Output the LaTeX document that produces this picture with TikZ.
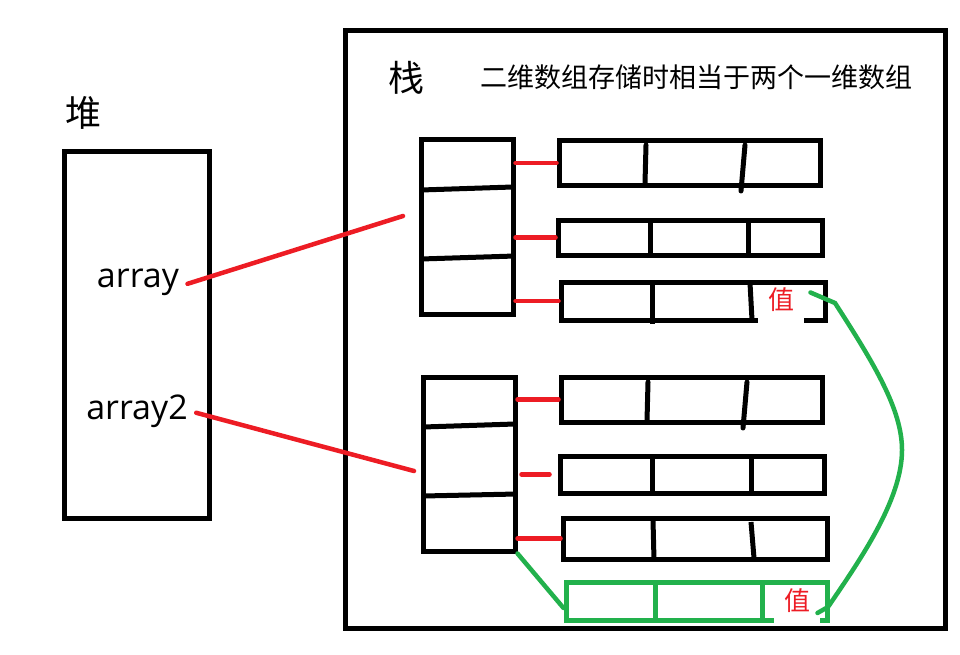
\documentclass[tikz,border=0pt]{standalone}
\usepackage{fontspec}
\setmainfont{Open Sans}
\newfontfamily\cjk{Noto Sans CJK SC}
\definecolor{paintred}{RGB}{237,28,36}
\definecolor{paintgreen}{RGB}{34,177,76}

\begin{document}
\begin{tikzpicture}[x=1pt,y=-1pt,line width=5pt,
  box/.style={draw,line width=5pt,minimum width=#1,inner sep=0pt},
  redline/.style={paintred,line width=4.5pt,line cap=round},
  greenline/.style={paintgreen,line width=4.5pt,line cap=round},
  zh/.style={font=\cjk\fontsize{#1}{#1}\selectfont,inner sep=0pt},
  val/.style={zh=26,text=paintred,fill=white,minimum width=46pt,text height=19pt,anchor=base}]
\useasboundingbox (0,0) rectangle (960,655);

% heap and stack frames
\node[box=600pt,minimum height=597pt] (stack) at (645,329.5) {};
\node[box=145pt,minimum height=366pt] (heap) at (136.5,335) {};
\node[zh=36] (heaplbl) at (83,113) {堆};
\node[zh=36] (stacklbl) at (406,78) {栈};
\node[zh=27] (title) at (696,77) {二维数组存储时相当于两个一维数组};

\node[font=\fontsize{34}{38}\selectfont,inner sep=0pt,anchor=base] (arr) at (138,287) {array};
\node[font=\fontsize{34}{38}\selectfont,inner sep=0pt,anchor=base] (arrb) at (137,419) {array2};

% first array
\begin{scope}
  \node[box=92pt,minimum height=174pt] (pa) at (467,227) {};
  \draw (421,190) -- (513,187);
  \draw (421,259) -- (515,256);
  \node[box=261pt,minimum height=44pt] (ra) at (689.5,163) {};
  \draw[line cap=round] (646,145) -- (645,183);
  \draw[line cap=round] (745,145) -- (741,191);
  \node[box=264pt,minimum height=35pt] (rb) at (690,237.5) {};
  \draw (650,220) -- (650,258);
  \draw (748,220) -- (748,258);
  \node[box=264pt,minimum height=38pt] (rc) at (693,301) {};
  \draw (652,283) -- (652,324);
  \draw (750,283) -- (752,320);
  \node[val,text depth=14pt] (vala) at (781,309) {值};
\end{scope}

% second array
\begin{scope}
  \node[box=92pt,minimum height=174pt] (pb) at (469,464) {};
  \draw (423,427) -- (515,424);
  \draw (423,496) -- (517,494);
  \node[box=261pt,minimum height=45pt] (sa) at (691.5,399.5) {};
  \draw[line cap=round] (648,382) -- (647,421);
  \draw[line cap=round] (747,382) -- (743,428);
  \node[box=264pt,minimum height=37pt] (sb) at (692,474.5) {};
  \draw (652,456) -- (652,495);
  \draw (751,456) -- (751,495);
  \node[box=264pt,minimum height=41pt] (sc) at (695,538.5) {};
  \draw (653,520) -- (654,560);
  \draw (751,522) -- (754,558);
  \node[box=261pt,minimum height=38pt,draw=paintgreen] (sd) at (696.5,601) {};
  \draw[paintgreen] (655,582) -- (655,620);
  \draw[paintgreen] (762,582) -- (762,623);
  \node[val,text depth=13pt] (valb) at (797,610) {值};
\end{scope}

% references
\coordinate (ta) at (403,216);
\coordinate (tb) at (414,471);
\draw[redline] ([xshift=6pt,yshift=-2pt]arr.east) -- (ta);
\draw[redline] ([xshift=6pt,yshift=-2pt]arrb.east) -- (tb);
\draw[redline] (pa.east |- ra.west) -- (ra.west);
\draw[redline] (pa.east |- rb.west) -- (rb.west);
\draw[redline] (pa.east |- rc.west) -- (rc.west);
\draw[redline] (pb.east |- sa.west) -- (sa.west);
\draw[redline] ([xshift=4pt]pb.east |- sb.west) -- ([xshift=-8pt]sb.west);
\draw[redline] (pb.east |- sc.west) -- (sc.west);
\draw[greenline] (pb.south east) -- ([yshift=-7pt]sd.west);
\draw[greenline] ([xshift=4pt,yshift=14pt]vala.east) -- (835,303)
  .. controls (875,365) and (902,410) .. (902,450)
  .. controls (902,500) and (860,560) .. (828,607) -- ([xshift=-5pt,yshift=-6pt]valb.east);

\end{tikzpicture}
\end{document}
